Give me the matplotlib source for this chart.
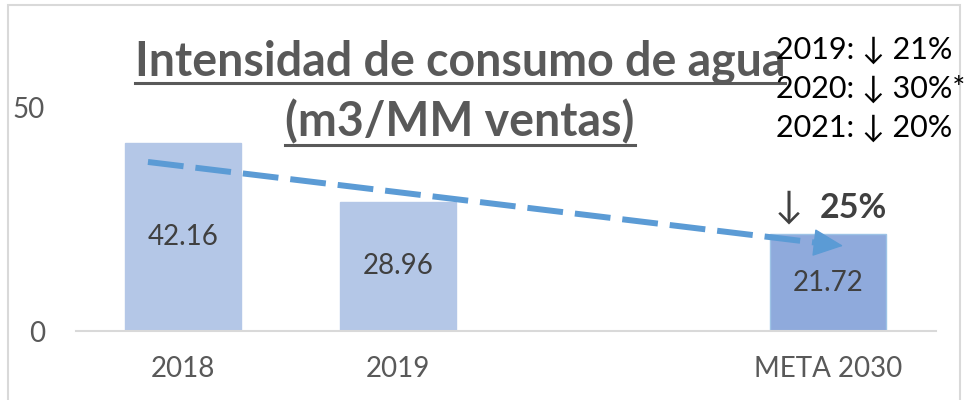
import numpy as np
import matplotlib
matplotlib.use('Agg')
import matplotlib.pyplot as plt
from matplotlib.patches import Rectangle
from matplotlib.lines import Line2D

# datos
categorias = ["2018", "2019", "", "META 2030"]
valores = [42.16, 28.96, np.nan, 21.72]
etiquetas = ["42.16", "28.96", "", "21.72"]
colores = ["#B4C7E7", "#B4C7E7", "#B4C7E7", "#8FAADC"]
tendencia_x = [-0.163, 3.07]
tendencia_y = [37.9, 19.1]
notas = ["2019: \u2193 21%", "2020: \u2193 30%*", "2021: \u2193 20%"]
meta_txt = "25%"

plt.rcParams['font.family'] = ['Lato', 'DejaVu Sans']

fig = plt.figure(figsize=(9.67, 4.0), dpi=100)
W, H = 967, 400

# marco gris
fig.patches.append(Rectangle((8 / W, -0.05), 952 / W, (395 + 20) / H, transform=fig.transFigure,
                             fill=False, edgecolor="#D9D9D9", lw=1.5))

ax = fig.add_axes([75.5 / W, 69 / H, 860 / W, 267.6 / H])
x = np.arange(len(categorias))
ax.bar(x, valores, width=0.535, color=colores,
       edgecolor=["#B4C7E7", "#B4C7E7", "#B4C7E7", "#9DC3E6"], linewidth=1)
ax.set_xlim(-0.5, 3.5)
ax.set_ylim(0, 60)

for xi, v, t in zip(x, valores, etiquetas):
    if t:
        ax.text(xi, v / 2, t, ha='center', va='center', fontsize=20, color="#404040")

ax.set_xticks(x)
ax.set_xticklabels(categorias, fontsize=20, color="#595959")
ax.set_yticks([0, 50])
ax.set_yticklabels(["0", "50"], fontsize=20, color="#595959")
ax.tick_params(length=0)
ax.tick_params(axis='x', pad=18)
ax.tick_params(axis='y', pad=22)
for s in ["top", "right", "left"]:
    ax.spines[s].set_visible(False)
ax.spines["bottom"].set_color("#D9D9D9")
ax.spines["bottom"].set_linewidth(1.5)

# flecha de tendencia
azul = "#5B9BD5"
ax.plot([tendencia_x[0], tendencia_x[1] - 0.1], [tendencia_y[0], tendencia_y[1] + 0.55],
        color=azul, lw=4.3, linestyle=(0, (6, 2)), solid_capstyle='butt', dash_capstyle='butt')
ax.annotate("", xy=(tendencia_x[1], tendencia_y[1]),
            xytext=(tendencia_x[1] - 0.13, tendencia_y[1] + 0.7),
            arrowprops=dict(arrowstyle='-|>,head_length=1.3,head_width=0.6', color=azul, lw=1,
                            mutation_scale=15, shrinkA=0, shrinkB=0))

# titulo (subrayado)
titulo = [("Intensidad de consumo de agua", 76, 83), ("(m3/MM ventas)", 136, 145)]
fig.canvas.draw()
r = fig.canvas.get_renderer()
for txt, base, sub in titulo:
    t = fig.text(460 / W, 1 - base / H, txt, ha='center', va='baseline',
                 fontsize=33.5, fontweight='bold', color="#595959")
    bb = t.get_window_extent(r).transformed(fig.transFigure.inverted())
    fig.add_artist(Line2D([bb.x0, bb.x1], [1 - sub / H] * 2, transform=fig.transFigure,
                          color="#595959", lw=2.2))

# notas
for i, n in enumerate(notas):
    fig.text(776 / W, 1 - (50 + i * 39) / H, n, ha='left', va='center',
             fontsize=22, color="black")
fig.text(775 / W, 1 - 207 / H, "\u2193", ha='left', va='center', fontsize=27, color="#404040")
fig.text(820 / W, 1 - 208 / H, meta_txt, ha='left', va='center', fontsize=24.5,
         fontweight='bold', color="#404040")

fig.savefig("out.png", dpi=100)
